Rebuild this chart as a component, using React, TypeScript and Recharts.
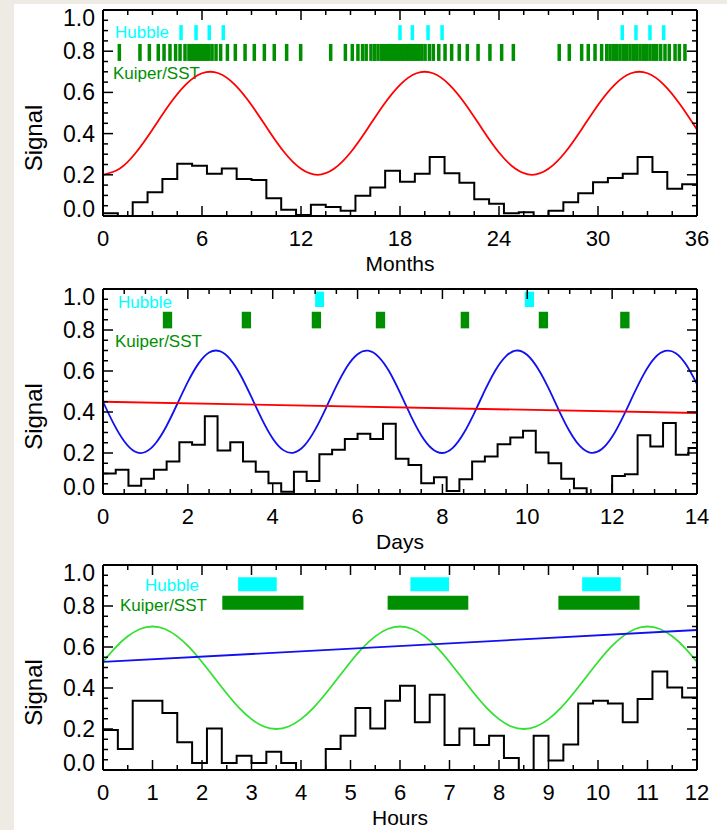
import React from "react";
import { ComposedChart, Line, Scatter, XAxis, YAxis, ReferenceArea } from "recharts";

const FONT = "'Liberation Sans', Arial, Helvetica, sans-serif";

// ---------- panel 1: months ----------
const monthMajor = [0, 6, 12, 18, 24, 30, 36];
const monthSignal = [
  0.2, 0.229, 0.308, 0.42, 0.539, 0.637, 0.693, 0.693, 0.637, 0.539, 0.42, 0.308, 0.229,
  0.2, 0.229, 0.308, 0.42, 0.539, 0.637, 0.693, 0.693, 0.637, 0.539, 0.42, 0.308, 0.229,
  0.2, 0.229, 0.308, 0.42, 0.539, 0.637, 0.693, 0.693, 0.637, 0.539, 0.42,
];
const monthHistWidth = 0.9;
const monthHist = [
  0.013, 0, 0.067, 0.115, 0.18, 0.254, 0.244, 0.205, 0.23, 0.18, 0.175, 0.086, 0.03, 0.005,
  0.055, 0.044, 0.026, 0.098, 0.138, 0.22, 0.166, 0.205, 0.286, 0.208, 0.161, 0.081, 0.059,
  0.013, 0.018, 0, 0.026, 0.067, 0.11, 0.164, 0.184, 0.205, 0.286, 0.213, 0.132, 0.154,
];
const monthHubble = [4.73, 5.64, 6.44, 7.29, 18.0, 18.75, 19.7, 20.55, 31.47, 32.3, 33.15, 33.98];
const monthKuiper = [
  0.99, 2.24, 2.81, 3.35, 3.7, 4.06, 4.4, 4.67, 4.97, 5.21, 5.37, 5.53, 5.68, 5.82, 5.96, 6.1,
  6.26, 6.42, 6.61, 6.85, 7.13, 7.54, 8.02, 8.61, 9.17, 9.78, 10.38, 11.13, 11.98, 13.8,
  14.69, 15.11, 15.45, 15.73, 15.95, 16.24, 16.46, 16.67, 16.89, 17.07, 17.23, 17.39, 17.56,
  17.74, 17.9, 18.06, 18.22, 18.41, 18.56, 18.75, 18.93, 19.11, 19.32, 19.52, 19.78, 20.02,
  20.35, 20.73, 21.13, 21.59, 22.08, 22.73, 23.45, 24.16, 24.87,
  27.65, 28.26, 29.01, 29.41, 29.82, 30.22, 30.53, 30.73, 30.93, 31.13, 31.33, 31.53, 31.74,
  31.94, 32.14, 32.35, 32.55, 32.75, 32.95, 33.15, 33.35, 33.56, 33.8, 34.06, 34.32, 34.67,
  34.93, 35.27,
];

// ---------- panel 2: days ----------
const dayMajor = [0, 2, 4, 6, 8, 10, 12, 14];
const daySignalStep = 0.25;
const daySignal = [
  0.45, 0.343, 0.257, 0.207, 0.205, 0.25, 0.333, 0.439, 0.547, 0.636,
  0.69, 0.697, 0.657, 0.577, 0.472, 0.363, 0.271, 0.214, 0.202, 0.237,
  0.314, 0.417, 0.526, 0.621, 0.682, 0.699, 0.668, 0.596, 0.494, 0.384,
  0.287, 0.222, 0.2, 0.226, 0.296, 0.395, 0.505, 0.604, 0.673, 0.7,
  0.678, 0.612, 0.516, 0.406, 0.305, 0.232, 0.201, 0.218, 0.279, 0.374,
  0.483, 0.586, 0.663, 0.698, 0.687, 0.629, 0.536,
];
const dayTrendX = [0, 14];
const dayTrend = [0.45, 0.395];
const dayHistWidth = 0.3;
const dayHist = [
  0.1, 0.118, 0.04, 0.074, 0.118, 0.158, 0.253, 0.24, 0.379, 0.212, 0.253, 0.158, 0.108,
  0.052, 0.011, 0.109, 0.064, 0.194, 0.216, 0.268, 0.294, 0.268, 0.343, 0.172, 0.142, 0.052,
  0.082, 0.015, 0.072, 0.158, 0.183, 0.243, 0.276, 0.309, 0.203, 0.15, 0.074, 0.028, 0, 0,
  0.088, 0.096, 0.286, 0.232, 0.346, 0.191, 0.224,
];
const dayHubbleStart = [5.0, 9.94];
const dayHubbleEnd = [5.21, 10.16];
const dayKuiperStart = [1.41, 3.27, 4.92, 6.43, 8.43, 10.27, 12.19];
const dayKuiperEnd = [1.63, 3.49, 5.14, 6.65, 8.63, 10.49, 12.41];

// ---------- panel 3: hours ----------
const hourMajor = [0, 1, 2, 3, 4, 5, 6, 7, 8, 9, 10, 11, 12];
const hourSignalStep = 0.25;
const hourSignal = [
  0.527, 0.597, 0.652, 0.688, 0.7, 0.688, 0.652, 0.597, 0.527, 0.45,
  0.373, 0.303, 0.248, 0.212, 0.2, 0.212, 0.248, 0.303, 0.373, 0.45,
  0.527, 0.597, 0.652, 0.688, 0.7, 0.688, 0.652, 0.597, 0.527, 0.45,
  0.373, 0.303, 0.248, 0.212, 0.2, 0.212, 0.248, 0.303, 0.373, 0.45,
  0.527, 0.597, 0.652, 0.688, 0.7, 0.688, 0.652, 0.597, 0.527,
];
const hourTrendX = [0, 12];
const hourTrend = [0.527, 0.683];
const hourHistWidth = 0.3;
const hourHist = [
  0.195, 0.102, 0.338, 0.338, 0.278, 0.135, 0.034, 0.203, 0.034, 0.07, 0.034, 0.089, 0.034,
  0, 0, 0.102, 0.167, 0.302, 0.203, 0.338, 0.411, 0.233, 0.367, 0.122, 0.203, 0.122, 0.167,
  0.059, 0, 0.167, 0.046, 0.124, 0.325, 0.338, 0.325, 0.233, 0.346, 0.481, 0.403, 0.354,
];
const hourHubbleStart = [2.73, 6.21, 9.68];
const hourHubbleEnd = [3.51, 6.99, 10.46];
const hourKuiperStart = [2.41, 5.75, 9.2];
const hourKuiperEnd = [4.05, 7.38, 10.84];

const yMajor = [0, 0.2, 0.4, 0.6, 0.8, 1.0];

const CYAN = "#00ffff";
const DKGREEN = "#008f00";

// helpers
const steps = (from: number, to: number, step: number) => {
  const out: number[] = [];
  for (let v = from; v <= to + 1e-9; v += step) out.push(Math.round(v * 1000) / 1000);
  return out;
};
const isMajor = (v: number, majors: number[]) => majors.some((m) => Math.abs(m - v) < 1e-6);

const histPoints = (vals: number[], width: number, end: number) => {
  const pts = vals.map((y, i) => ({ x: Math.round(i * width * 1000) / 1000, y }));
  pts.push({ x: end, y: vals[vals.length - 1] });
  return pts;
};
const curvePoints = (vals: number[], step: number) => vals.map((y, i) => ({ x: i * step, y }));
const pairPoints = (xs: number[], ys: number[]) => xs.map((x, i) => ({ x, y: ys[i] }));

const makeXTick = (majors: number[], side: "bottom" | "top") => (props: any) => {
  const { x, y, payload } = props;
  const major = isMajor(payload.value, majors);
  const len = major ? 10 : 5;
  const dir = side === "bottom" ? -1 : 1;
  return (
    <g>
      <line x1={x} x2={x} y1={y} y2={y + dir * len} stroke="#000" strokeWidth={1.5} />
      {side === "bottom" && major && (
        <text x={x} y={y + 22} textAnchor="middle" dominantBaseline="central"
          fontSize={22} fontFamily={FONT} fill="#000">
          {payload.value}
        </text>
      )}
    </g>
  );
};

const makeYTick = (side: "left" | "right") => (props: any) => {
  const { x, y, payload } = props;
  const v = payload.value;
  const major = isMajor(v, yMajor);
  const len = major ? 10 : 5;
  const dir = side === "left" ? 1 : -1;
  // IDL keeps the end labels inside the box
  let dy = 0;
  if (v > 0.999) dy = 8;
  if (v < 0.001) dy = -7;
  return (
    <g>
      <line x1={x} x2={x + dir * len} y1={y} y2={y} stroke="#000" strokeWidth={1.5} />
      {side === "left" && major && (
        <text x={x - 8} y={y + dy} textAnchor="end" dominantBaseline="central"
          fontSize={23} fontFamily={FONT} fill="#000">
          {v.toFixed(1)}
        </text>
      )}
    </g>
  );
};

const yTicks = steps(0, 1, 0.05);
const leftTick = makeYTick("left");
const rightTick = makeYTick("right");

const tickMark = (color: string, w: number, h: number) => (props: any) => (
  <rect x={props.cx - w / 2} y={props.cy - h / 2} width={w} height={h} fill={color} />
);

type PanelProps = {
  top: number;
  height: number;
  domain: [number, number];
  majors: number[];
  minorStep: number;
  xTitle: string;
  legend: { hubble: [number, number]; kuiper: [number, number] };
  children: React.ReactNode;
};

const Panel: React.FC<PanelProps> = ({ top, height, domain, majors, minorStep, xTitle, legend, children }) => {
  const plotTop = 10;
  const plotBottom = height - 62;
  const xTicks = steps(domain[0], domain[1], minorStep);
  const sigY = (plotTop + plotBottom) / 2 + 25;
  return (
    <div style={{ position: "absolute", left: 0, top }}>
      <ComposedChart width={727} height={height} margin={{ top: 0, right: 20, bottom: 2, left: 43 }}>
        <XAxis xAxisId={0} dataKey="x" type="number" domain={domain} allowDataOverflow
          ticks={xTicks} interval={0} height={60} tickSize={0} tickMargin={0}
          tickLine={false} axisLine={{ stroke: "#000", strokeWidth: 2 }}
          tick={makeXTick(majors, "bottom")} />
        <XAxis xAxisId="top" orientation="top" dataKey="x" type="number" domain={domain} allowDataOverflow
          ticks={xTicks} interval={0} height={10} tickSize={0} tickMargin={0}
          tickLine={false} axisLine={{ stroke: "#000", strokeWidth: 2 }}
          tick={makeXTick(majors, "top")} />
        <YAxis yAxisId={0} type="number" domain={[0, 1]} allowDataOverflow ticks={yTicks} interval={0}
          width={60} tickSize={0} tickMargin={0} tickLine={false}
          axisLine={{ stroke: "#000", strokeWidth: 2 }} tick={leftTick} />
        <YAxis yAxisId="right" orientation="right" type="number" domain={[0, 1]} allowDataOverflow
          ticks={yTicks} interval={0} width={10} tickSize={0} tickMargin={0} tickLine={false}
          axisLine={{ stroke: "#000", strokeWidth: 2 }} tick={rightTick} />
        {children}
        <text x={legend.hubble[0]} y={legend.hubble[1]} dominantBaseline="central"
          fontSize={17} fontFamily={FONT} fill={CYAN}>Hubble</text>
        <text x={legend.kuiper[0]} y={legend.kuiper[1]} dominantBaseline="central"
          fontSize={17} fontFamily={FONT} fill={DKGREEN}>Kuiper/SST</text>
        <text x={400} y={plotBottom + 47} textAnchor="middle" dominantBaseline="central"
          fontSize={21} fontFamily={FONT} fill="#000">{xTitle}</text>
        <text x={33} y={sigY} textAnchor="middle" dominantBaseline="central"
          fontSize={24} fontFamily={FONT} fill="#000"
          transform={`rotate(-90 33 ${sigY})`}>Signal</text>
      </ComposedChart>
    </div>
  );
};

const App: React.FC = () => {
  const m1Hubble = monthHubble.map((x) => ({ x, y: 0.89 }));
  const m1Kuiper = monthKuiper.map((x) => ({ x, y: 0.794 }));
  return (
    <div style={{ position: "absolute", left: 0, top: 0, width: 727, height: 830, background: "#eeebe5", overflow: "hidden" }}>
      <div style={{ position: "absolute", left: 14, top: 4, width: 713, height: 826, background: "#fff" }} />

      <Panel top={0} height={278} domain={[0, 36]} majors={monthMajor} minorStep={1.5} xTitle="Months"
        legend={{ hubble: [115, 32], kuiper: [113, 73] }}>
        <Scatter data={m1Hubble} dataKey="y" shape={tickMark(CYAN, 3.5, 15)} isAnimationActive={false} />
        <Scatter data={m1Kuiper} dataKey="y" shape={tickMark(DKGREEN, 3.5, 17)} isAnimationActive={false} />
        <Line data={curvePoints(monthSignal, 1)} dataKey="y" type="natural" stroke="#ff0000"
          strokeWidth={1.8} dot={false} isAnimationActive={false} />
        <Line data={histPoints(monthHist, monthHistWidth, 36)} dataKey="y" type="stepAfter" stroke="#000"
          strokeWidth={2} dot={false} isAnimationActive={false} />
      </Panel>

      <Panel top={279} height={277} domain={[0, 14]} majors={dayMajor} minorStep={0.5} xTitle="Days"
        legend={{ hubble: [118, 23], kuiper: [115, 62] }}>
        {dayHubbleStart.map((s, i) => (
          <ReferenceArea key={"h" + i} x1={s} x2={dayHubbleEnd[i]} y1={0.912} y2={0.987}
            fill={CYAN} fillOpacity={1} stroke="none" />
        ))}
        {dayKuiperStart.map((s, i) => (
          <ReferenceArea key={"k" + i} x1={s} x2={dayKuiperEnd[i]} y1={0.808} y2={0.889}
            fill={DKGREEN} fillOpacity={1} stroke="none" />
        ))}
        <Line data={curvePoints(daySignal, daySignalStep)} dataKey="y" type="natural" stroke="#1010f0"
          strokeWidth={1.8} dot={false} isAnimationActive={false} />
        <Line data={pairPoints(dayTrendX, dayTrend)} dataKey="y" type="linear" stroke="#ff0000"
          strokeWidth={1.8} dot={false} isAnimationActive={false} />
        <Line data={histPoints(dayHist, dayHistWidth, 14)} dataKey="y" type="stepAfter" stroke="#000"
          strokeWidth={2} dot={false} isAnimationActive={false} />
      </Panel>

      <Panel top={555} height={277} domain={[0, 12]} majors={hourMajor} minorStep={0.5} xTitle="Hours"
        legend={{ hubble: [145, 30], kuiper: [120, 50] }}>
        {hourHubbleStart.map((s, i) => (
          <ReferenceArea key={"h" + i} x1={s} x2={hourHubbleEnd[i]} y1={0.872} y2={0.94}
            fill={CYAN} fillOpacity={1} stroke="none" />
        ))}
        {hourKuiperStart.map((s, i) => (
          <ReferenceArea key={"k" + i} x1={s} x2={hourKuiperEnd[i]} y1={0.782} y2={0.85}
            fill={DKGREEN} fillOpacity={1} stroke="none" />
        ))}
        <Line data={curvePoints(hourSignal, hourSignalStep)} dataKey="y" type="natural" stroke="#33e033"
          strokeWidth={1.8} dot={false} isAnimationActive={false} />
        <Line data={pairPoints(hourTrendX, hourTrend)} dataKey="y" type="linear" stroke="#1010f0"
          strokeWidth={1.8} dot={false} isAnimationActive={false} />
        <Line data={histPoints(hourHist, hourHistWidth, 12)} dataKey="y" type="stepAfter" stroke="#000"
          strokeWidth={2} dot={false} isAnimationActive={false} />
      </Panel>
    </div>
  );
};

export default App;
